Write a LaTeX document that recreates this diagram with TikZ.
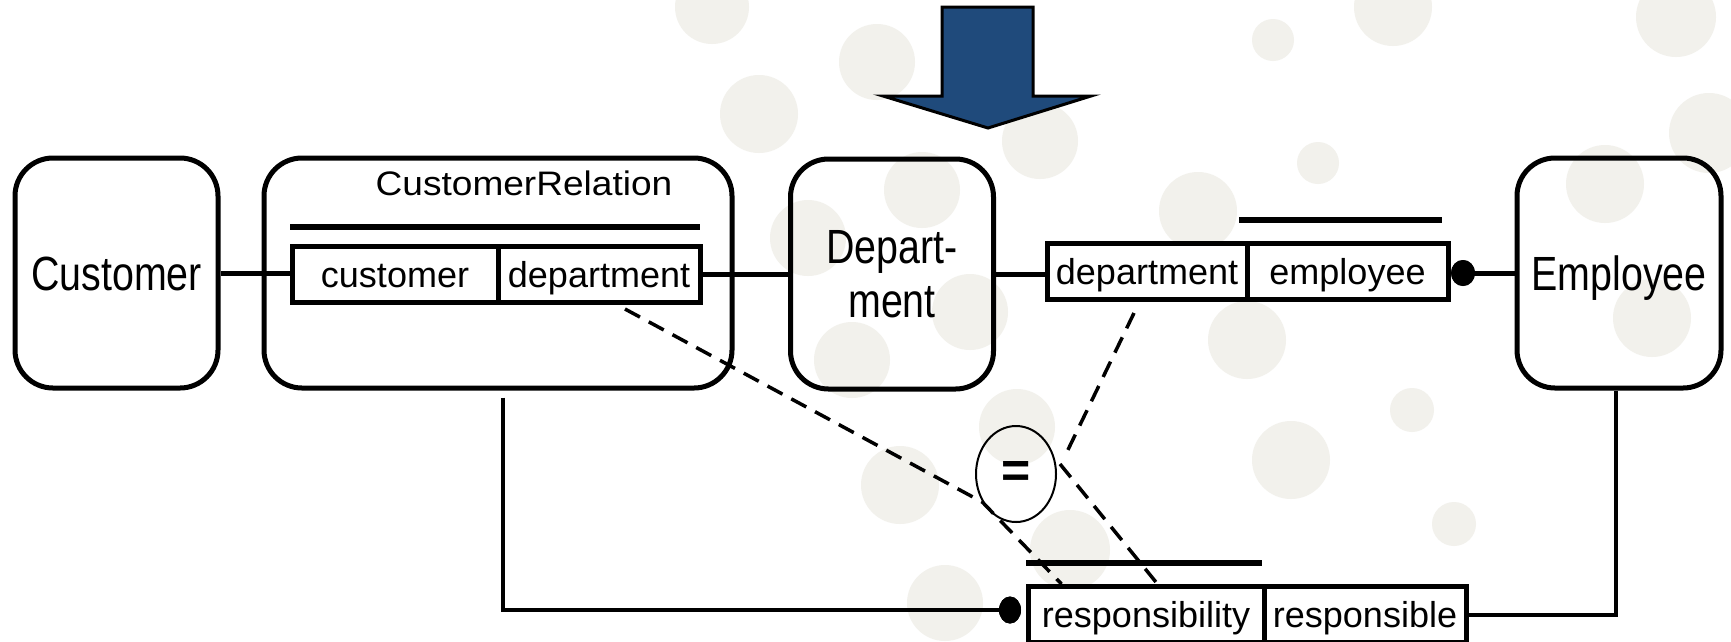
\documentclass[tikz,border=0pt]{standalone}
\usepackage{fontspec}
\setmainfont{Liberation Sans}
\newfontfamily\labelnarrow[FakeStretch=0.82]{Liberation Sans}
\newfontfamily\labelwide[FakeStretch=1.09]{Liberation Sans}
\usetikzlibrary{shapes.geometric,calc}

\definecolor{dotgrey}{RGB}{242,241,236}
\definecolor{arrowblue}{RGB}{31,74,123}

\tikzset{
  entity/.style={draw, line width=5pt, rounded corners=38pt, minimum width=203pt,
    minimum height=230pt, inner sep=0pt, align=center,
    font=\labelnarrow\fontsize{48}{54}\selectfont},
  oneline/.style={text height=35pt, text depth=0pt},
  role/.style={draw, fill=white, line width=5pt, minimum height=56pt, inner sep=0pt,
    text height=26pt, text depth=0pt, font=\fontsize{36}{40}\selectfont},
  conn/.style={line width=5pt},
  thinconn/.style={line width=4pt},
  uniq/.style={line width=5.5pt},
  subset/.style={line width=3.5pt, dash pattern=on 17pt off 10pt},
  blob/.style={fill=dotgrey, draw=none},
  pin/.style={ellipse, fill=black, inner sep=0pt},
}

\begin{document}
\begin{tikzpicture}[x=1pt, y=-1pt]
  % page area
  \fill[white] (0,0) rectangle (1731,641);
  \clip (0,0) rectangle (1731,641);

  % decorative dots in the background
  \foreach \cx/\cy/\r in {712/7/37, 877/62/38, 759/114/39, 808/238/38, 852/360/38,
      922/190/38, 970/312/38, 1040/141/38, 1273/40/21, 1318/163/21, 1198/211/39,
      1247/340/39, 1412/410/22, 1291/460/39, 1454/524/22, 1393/7/39, 1676/17/40,
      1709/133/40, 1605/184/39, 1652/318/39, 1017/427/38, 1070/550/40, 945/603/38,
      900/485/39}
    \fill[blob] (\cx,\cy) circle[radius=\r];

  % block arrow at the top
  \draw[fill=arrowblue, draw=black, line width=3pt]
    (942,7) -- (1033,7) -- (1033,96) -- (1091,96) -- (988,128) -- (883,96)
    -- (942,96) -- cycle;

  % object types
  \node[entity, oneline] (cust) at (116.5,273) {Customer};
  \node[entity, minimum width=468pt] (crel) at (498,273) {};
  \node[font=\labelwide\fontsize{34}{40}\selectfont, anchor=base, inner sep=0pt]
    (crelname) at (524,195) {CustomerRelation};
  \node[entity] (dept) at (892,274) {Depart-\\ment};
  \node[entity, minimum width=204pt, oneline] (emp) at (1619,273) {Employee};

  % fact types (role boxes)
  \node[role, minimum width=206pt] (csm) at (395,274.5) {customer};
  \node[role, minimum width=202pt] (cdp) at (599,274.5) {department};
  \node[role, minimum width=200pt] (ddp) at (1147,271.5) {department};
  \node[role, minimum width=201pt] (dem) at (1347.5,271.5) {employee};
  \node[role, minimum width=236pt] (rsb) at (1146,614.5) {responsibility};
  \node[role, minimum width=202pt] (rsp) at (1365,614.5) {responsible};

  % uniqueness bars
  \draw[uniq] (290,227) -- (700,227);
  \draw[uniq] (1239,220) -- (1442,220);
  \draw[uniq] (1026,563) -- (1262,563);

  % equality constraint
  \node[draw, ellipse, line width=2pt, minimum width=80pt, minimum height=96pt,
    inner sep=0pt, font=\bfseries\fontsize{50}{50}\selectfont] (eq) at (1016,474) {=};

  % mandatory role dots
  \node[pin, minimum width=24pt, minimum height=26pt] (pinE) at (1463,273) {};
  \node[pin, minimum width=22pt, minimum height=27pt] (pinR) at (1010,610) {};

  % role connectors
  \draw[conn] (cust.east) -- (cust.east -| csm.west);
  \draw[conn] (cdp.east |- dept.west) -- (dept.west);
  \draw[conn] (dept.east) -- (dept.east -| ddp.west);
  \draw[conn] (pinE.center) -- (emp.west);
  \draw[thinconn] ($(crel.south)+(5,7)$) |- (pinR.center);
  \draw[thinconn] ($(emp.south)+(-3,0)$) |- (rsp.east);

  % constraint arguments
  \draw[subset] ($(cdp.south)+(26,4)$) -- (eq.220) -- ($(rsb.north west)+(36,0)$);
  \draw[subset] ($(ddp.south)+(-13,11)$) -- ($(eq.east)+(7,-16)$);
  \draw[subset] ($(eq.east)+(3,-10)$) -- ($(rsb.north east)+(-109,0)$);

  % dots drawn over their connectors
  \fill (pinE) ellipse[x radius=12, y radius=13];
  \fill (pinR) ellipse[x radius=11, y radius=13.5];
\end{tikzpicture}
\end{document}
